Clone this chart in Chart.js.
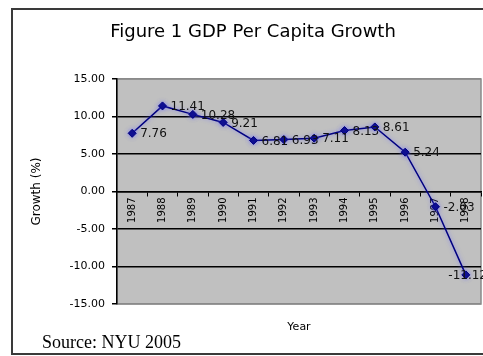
<!DOCTYPE html>
<html><head><meta charset="utf-8">
<script src="https://cdn.jsdelivr.net/npm/chart.js@4"></script>
<style>html,body{margin:0;padding:0;background:#fff;overflow:hidden}</style>
</head><body>
<canvas id="c" width="483" height="356" style="display:block;width:483px;height:356px"></canvas>
<script>
const years = ['1987','1988','1989','1990','1991','1992','1993','1994','1995','1996','1997','1998'];
const growth = [7.76, 11.41, 10.28, 9.21, 6.81, 6.93, 7.11, 8.13, 8.61, 5.24, -2.03, -11.12];
const yMin = -15, yMax = 15, yStep = 5;
const chartTitle = 'Figure 1 GDP Per Capita Growth';
const yTitle = 'Growth (%)';
const xTitle = 'Year';
const sourceNote = 'Source: NYU 2005';

const framePlugin = {
  id: 'frame',
  beforeDraw(chart) {
    const {ctx, chartArea: a} = chart;
    ctx.save();
    ctx.fillStyle = '#fff';
    ctx.fillRect(0, 0, chart.width, chart.height);
    ctx.fillStyle = '#c0c0c0';
    ctx.fillRect(a.left, a.top, a.right - a.left, a.bottom - a.top);
    ctx.strokeStyle = '#8a8a8a';
    ctx.lineWidth = 1.5;
    ctx.strokeRect(a.left, a.top, a.right - a.left, a.bottom - a.top);
    ctx.strokeStyle = '#3a3a3a';
    ctx.lineWidth = 2;
    ctx.strokeRect(12, 9, chart.width + 10, 345);
    ctx.font = '18px "DejaVu Sans"';
    ctx.fillStyle = '#000';
    ctx.textAlign = 'center';
    ctx.textBaseline = 'middle';
    ctx.fillText(chartTitle, 253, 32);
    ctx.restore();
  },
  beforeDatasetDraw(chart) {
    const ctx = chart.ctx;
    ctx.save();
    ctx.shadowColor = 'rgba(110,110,255,0.75)';
    ctx.shadowBlur = 4;
  },
  afterDatasetDraw(chart) {
    chart.ctx.restore();
  },
  afterDatasetsDraw(chart) {
    const {ctx} = chart;
    const meta = chart.getDatasetMeta(0);
    ctx.save();
    ctx.font = '12px "DejaVu Sans"';
    ctx.fillStyle = '#111';
    ctx.textBaseline = 'middle';
    ctx.textAlign = 'left';
    meta.data.forEach((pt, i) => {
      const txt = growth[i].toFixed(2);
      const w = ctx.measureText(txt).width;
      const x = Math.min(pt.x + 8, chart.width + 4 - w);
      ctx.fillText(txt, x, pt.y + 1);
    });
    ctx.restore();
  },
  afterDraw(chart) {
    const {ctx} = chart;
    ctx.save();
    ctx.font = '18px "Liberation Serif"';
    ctx.fillStyle = '#000';
    ctx.textBaseline = 'alphabetic';
    ctx.fillText(sourceNote, 42, 348);
    ctx.restore();
  }
};

new Chart(document.getElementById('c'), {
  type: 'line',
  data: {
    labels: years,
    datasets: [{
      data: growth,
      borderColor: '#000080',
      backgroundColor: '#000080',
      borderWidth: 1.5,
      pointStyle: 'rectRot',
      pointRadius: 4,
      pointBorderWidth: 1,
      tension: 0,
      clip: false
    }]
  },
  options: {
    responsive: false,
    animation: false,
    devicePixelRatio: 1,
    layout: {autoPadding: false, padding: {left: 0, top: 79, right: 2, bottom: 0}},
    plugins: {
      legend: {display: false},
      tooltip: {enabled: false},
      title: {display: false}
    },
    scales: {
      y: {
        min: yMin, max: yMax,
        afterFit(s) { s.width = 117; },
        ticks: {
          stepSize: yStep,
          color: '#000',
          padding: 7,
          font: {family: '"DejaVu Sans"', size: 11},
          callback: v => Number(v).toFixed(2)
        },
        grid: {
          color: c => (c.tick && Math.abs(c.tick.value) === 15) ? '#8a8a8a' : '#000',
          lineWidth: 1.5,
          tickLength: 5,
          tickColor: '#000'
        },
        border: {display: true, color: '#000', width: 1.5},
        title: {
          display: true, text: yTitle, color: '#000',
          font: {family: '"DejaVu Sans"', size: 12},
          padding: {top: 30, bottom: 0}
        }
      },
      x: {
        position: {y: 0},
        offset: true,
        afterFit(s) { s.paddingLeft = 0; s.paddingRight = 0; },
        grid: {drawOnChartArea: false, drawTicks: true, tickLength: 4, color: '#000', offset: true},
        border: {display: true, color: '#000', width: 1.5},
        ticks: {
          color: '#000', autoSkip: false, minRotation: 90, maxRotation: 90, padding: 2,
          font: {family: '"DejaVu Sans"', size: 10}
        }
      },
      x2: {
        type: 'category',
        position: 'bottom',
        offset: true,
        afterFit(s) { s.height = 52; s.paddingLeft = 0; s.paddingRight = 0; },
        grid: {display: false},
        border: {display: false},
        ticks: {display: false},
        title: {
          display: true, text: xTitle, color: '#000',
          font: {family: '"DejaVu Sans"', size: 11},
          padding: {top: 0, bottom: 22}
        }
      }
    }
  },
  plugins: [framePlugin]
});
</script>
</body></html>
